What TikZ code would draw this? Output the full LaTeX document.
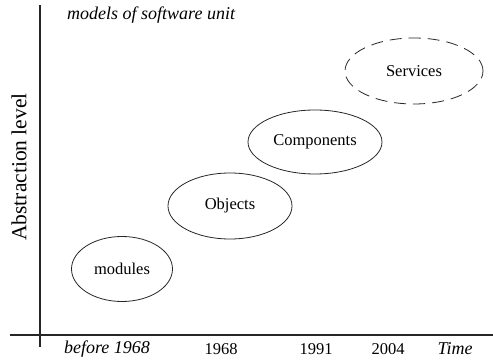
\documentclass[tikz,border=0pt]{standalone}
\usepackage{fontspec}
\setmainfont{Liberation Serif}
\usetikzlibrary{shapes.geometric}
\begin{document}
\begin{tikzpicture}[x=1pt,y=-1pt,
  axis/.style={line width=1.1pt,black!85},
  unit/.style={ellipse,draw=black!85,line width=0.8pt,inner sep=0pt,font=\fontsize{16.5}{18}\selectfont},
  lbl/.style={inner sep=0pt,font=\fontsize{16.5}{18}\selectfont},
  ilbl/.style={inner sep=0pt,font=\fontsize{18}{20}\selectfont\itshape}]
\useasboundingbox (0,0) rectangle (493,363);
\coordinate (ytop) at (40,5);
\coordinate (ybot) at (40,347);
\coordinate (xl) at (10,335);
\coordinate (xr) at (493,335);
\draw[axis] (ytop) -- (ybot);
\draw[axis] (xl) -- (xr);
\node[ilbl,anchor=west] (title) at (67,15) {models of software unit};
\node[inner sep=0pt,rotate=90,font=\fontsize{21.5}{24}\selectfont] (ylab) at (19,167) {Abstraction level};
\node[unit,minimum width=101pt,minimum height=65pt] (mod) at (122,269) {modules};
\node[unit,minimum width=124pt,minimum height=66pt] (obj) at (230,206) {Objects};
\node[unit,minimum width=134pt,minimum height=64pt] (comp) at (315,142) {Components};
\node[unit,dashed,dash pattern=on 12pt off 7pt,minimum width=138pt,minimum height=66pt] (serv) at (414,71) {Services};
\node[ilbl] (t0) at (107,349) {before 1968};
\node[lbl] (t1) at (221,349) {1968};
\node[lbl] (t2) at (316,349) {1991};
\node[lbl] (t3) at (388,349) {2004};
\node[ilbl] (t4) at (455,349) {Time};
\end{tikzpicture}
\end{document}
